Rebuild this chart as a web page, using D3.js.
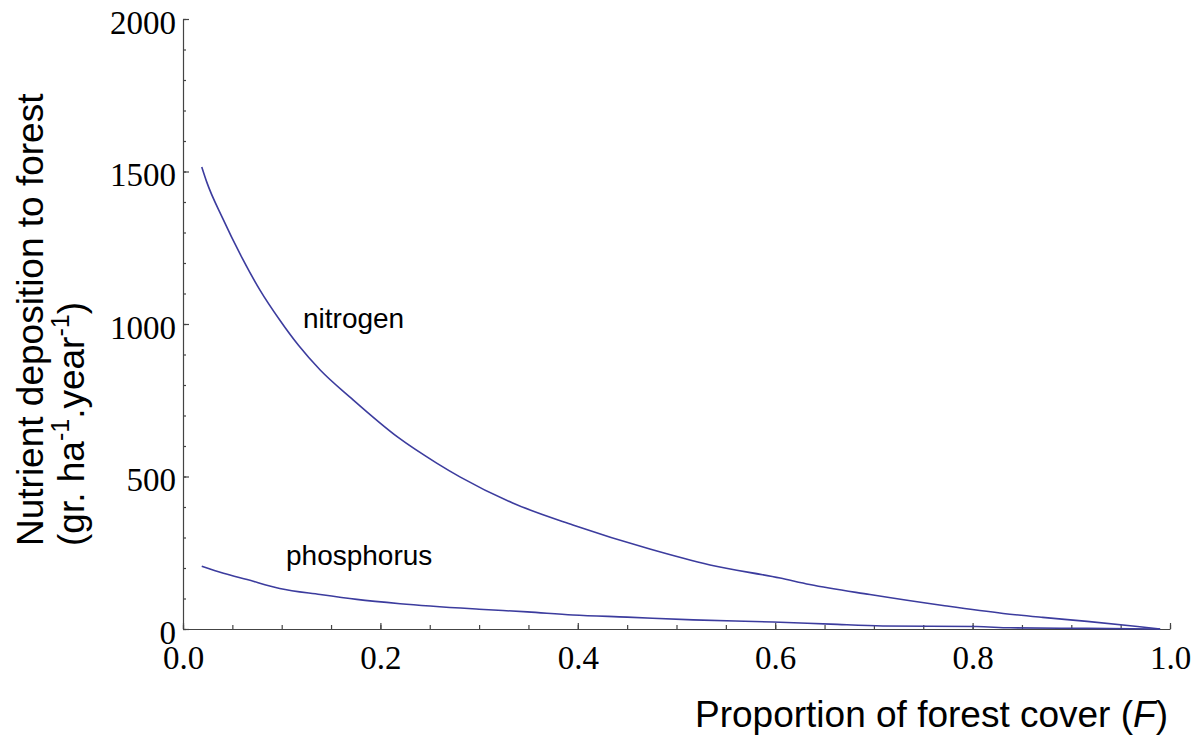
<!DOCTYPE html>
<html>
<head>
<meta charset="utf-8">
<script src="https://cdn.jsdelivr.net/npm/d3@7"></script>
<style>
  html, body { margin: 0; padding: 0; background: #fff; }
  svg { display: block; }
  .tick text { font-family: "Liberation Serif", "Times New Roman", serif; font-size: 33px; fill: #000; }
  .axis path, .axis line { stroke: #444; stroke-width: 1.2; }
</style>
</head>
<body>
<svg id="chart" width="1202" height="742"></svg>
<script>
// Data
const nitrogenF = [0.019, 0.024, 0.040, 0.060, 0.078, 0.098, 0.117, 0.139, 0.171, 0.218, 0.257, 0.281, 0.334, 0.395, 0.473, 0.534, 0.605, 0.635, 0.696, 0.770, 0.831, 0.871, 0.916, 0.967, 0.990];
const nitrogenV = [1515, 1466, 1348, 1216, 1111, 1013, 930, 849, 755, 628, 544, 498, 413, 341, 262, 210, 167, 146, 113, 77, 51, 38, 25, 8, 0];
const phosphorusF = [0.019, 0.041, 0.065, 0.098, 0.139, 0.176, 0.220, 0.300, 0.349, 0.395, 0.450, 0.517, 0.598, 0.656, 0.709, 0.804, 0.838, 0.916, 0.990];
const phosphorusV = [206, 183, 162, 133, 113, 97, 83, 65, 56, 46, 39, 30, 23, 16, 10, 8, 4, 2, 0];
const xTicks = [0, 0.2, 0.4, 0.6, 0.8, 1.0];
const yTicks = [0, 500, 1000, 1500, 2000];
const seriesLabels = ["nitrogen", "phosphorus"];

const svg = d3.select("#chart");
const x = d3.scaleLinear().domain([0, 1]).range([183, 1170]);
const y = d3.scaleLinear().domain([0, 2000]).range([629, 19]);

// minor ticks
svg.append("g").attr("class", "axis").attr("transform", "translate(0,629)")
  .call(d3.axisBottom(x).tickValues(d3.range(0, 1.0001, 0.05)).tickSizeInner(-4).tickSizeOuter(0).tickFormat(""))
  .call(g => g.select(".domain").remove());
svg.append("g").attr("class", "axis").attr("transform", "translate(183,0)")
  .call(d3.axisLeft(y).tickValues(d3.range(0, 2001, 100)).tickSizeInner(-3).tickSizeOuter(0).tickFormat(""))
  .call(g => g.select(".domain").remove());

// major axes
const xAxis = svg.append("g").attr("class", "axis").attr("transform", "translate(0,629)")
  .call(d3.axisBottom(x).tickValues(xTicks).tickSizeInner(-6).tickSizeOuter(0).tickFormat(d3.format(".1f")));
xAxis.selectAll(".tick text").attr("y", 40).attr("dy", 0);

const yAxis = svg.append("g").attr("class", "axis").attr("transform", "translate(183,0)")
  .call(d3.axisLeft(y).tickValues(yTicks).tickSizeInner(-6).tickSizeOuter(0).tickPadding(7).tickFormat(d3.format("d")));
yAxis.selectAll(".tick text").attr("dy", 14);

// lines
const line = d3.line().x(d => x(d[0])).y(d => y(d[1])).curve(d3.curveMonotoneX);
const nData = nitrogenF.map((f, i) => [f, nitrogenV[i]]);
const pData = phosphorusF.map((f, i) => [f, phosphorusV[i]]);
[nData, pData].forEach(data => {
  svg.append("path").datum(data)
    .attr("d", line)
    .attr("fill", "none")
    .attr("stroke", "#3c3c9e")
    .attr("stroke-width", 1.6);
});

// series labels
const sans = "'Liberation Sans', Arial, sans-serif";
svg.append("text").attr("x", 303).attr("y", 328).attr("font-family", sans).attr("font-size", 28).text(seriesLabels[0]);
svg.append("text").attr("x", 286).attr("y", 565).attr("font-family", sans).attr("font-size", 28).text(seriesLabels[1]);

// axis titles
const xt = svg.append("text").attr("x", 695).attr("y", 727).attr("font-family", sans).attr("font-size", 37);
xt.append("tspan").text("Proportion of forest cover (");
xt.append("tspan").attr("font-style", "italic").text("F");
xt.append("tspan").text(")");

const yt = svg.append("text").attr("transform", "translate(43,546) rotate(-90)")
  .attr("font-family", sans).attr("font-size", 37);
yt.append("tspan").attr("x", 0).attr("y", 0).text("Nutrient deposition to forest");
const l2 = svg.append("text").attr("transform", "translate(84,546) rotate(-90)")
  .attr("font-family", sans).attr("font-size", 37);
l2.append("tspan").text("(gr. ha");
l2.append("tspan").attr("font-size", 25).attr("dy", -15).text("-1");
l2.append("tspan").attr("dy", 15).text(".year");
l2.append("tspan").attr("font-size", 25).attr("dy", -15).text("-1");
l2.append("tspan").attr("dy", 15).text(")");
</script>
</body>
</html>
